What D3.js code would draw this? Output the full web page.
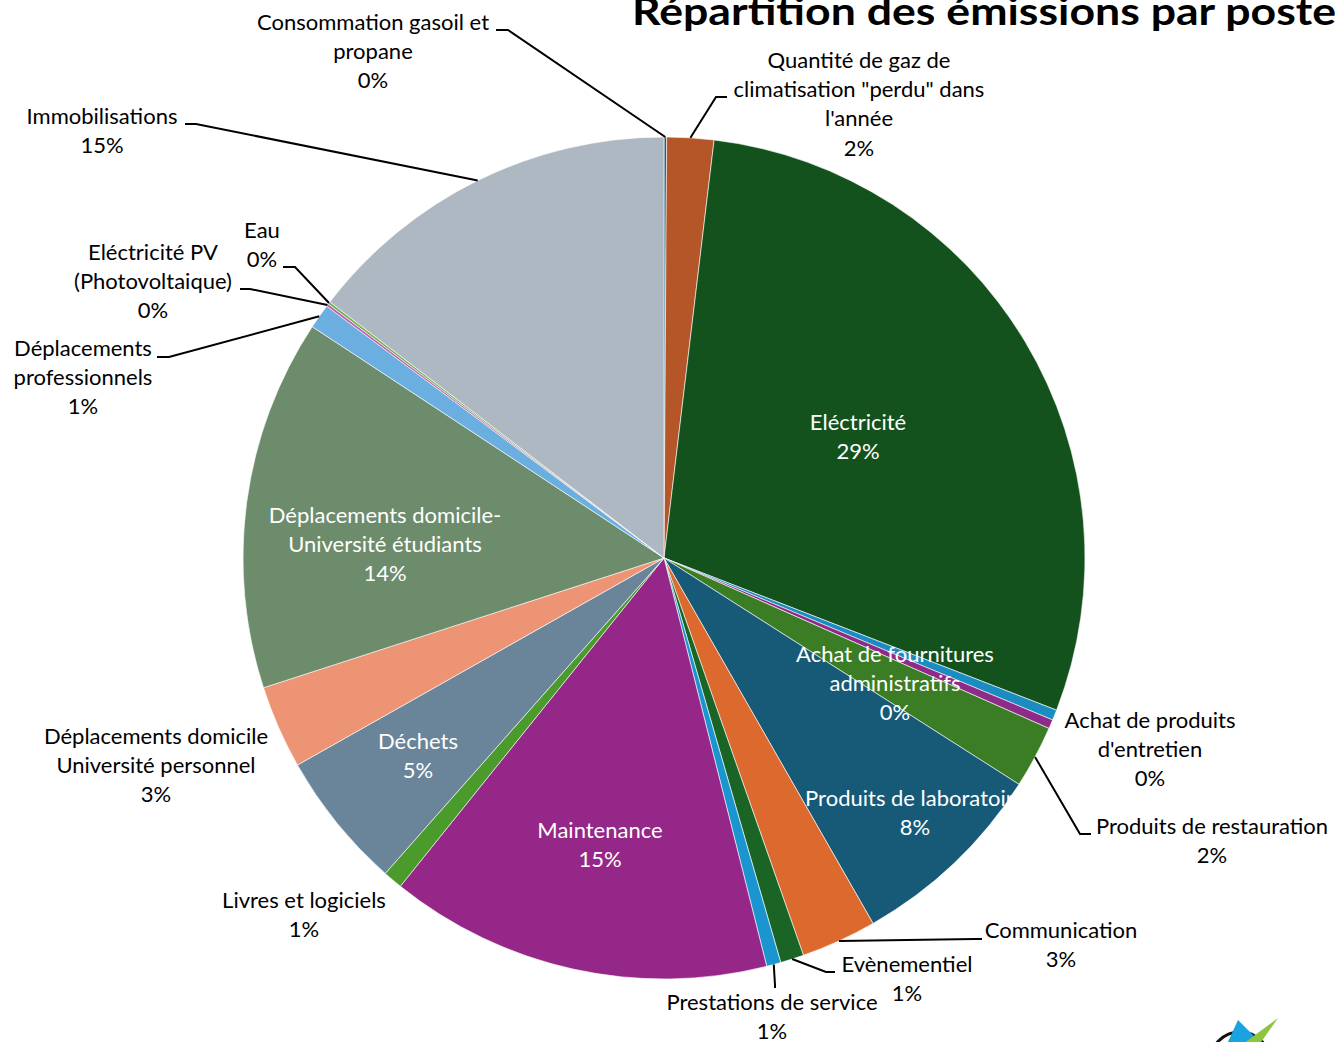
<!DOCTYPE html>
<html>
<head>
<meta charset="utf-8">
<script src="https://cdn.jsdelivr.net/npm/d3@7/dist/d3.min.js"></script>
<style>
  html, body { margin: 0; padding: 0; background: #fff; }
  svg { display: block; }
  text { font-family: Lato, "Open Sans", sans-serif; }
</style>
</head>
<body>
<svg id="chart" width="1335" height="1042"></svg>
<script>
// ---------------- DATA ----------------
const title = "Répartition des émissions par poste";

const categories = [
  "Consommation gasoil et propane",
  "Quantité de gaz de climatisation \"perdu\" dans l'année",
  "Eléctricité",
  "Achat de fournitures administratifs",
  "Achat de produits d'entretien",
  "Produits de restauration",
  "Produits de laboratoire",
  "Communication",
  "Evènementiel",
  "Prestations de service",
  "Maintenance",
  "Livres et logiciels",
  "Déchets",
  "Déplacements domicile Université personnel",
  "Déplacements domicile-Université étudiants",
  "Déplacements professionnels",
  "Eléctricité PV (Photovoltaique)",
  "Eau",
  "Immobilisations"
];

// share of emissions (%)
const values = [0.1, 1.8, 29.0, 0.4, 0.35, 2.4, 7.7, 2.9, 0.9, 0.55, 14.7, 0.75, 5.3, 3.2, 14.25, 0.95, 0.1, 0.1, 14.6];

// ---------------- PRESENTATION ----------------
const colors = [
  "#1F5F80", "#B45627", "#13521D", "#1A8CC2", "#8E2A88", "#3B7D25",
  "#165A78", "#DC6A2E", "#1A6426", "#1A95CF", "#952788", "#4A9B2C",
  "#6A8599", "#EC9473", "#6C8C6C", "#6AAFE0", "#C060B0", "#72B24E", "#AEB8C3"
];

// label line wrapping as drawn in the chart
const labelWrap = [
  ["Consommation gasoil et", "propane"],
  ["Quantité de gaz de", "climatisation \"perdu\" dans", "l'année"],
  ["Eléctricité"],
  ["Achat de fournitures", "administratifs"],
  ["Achat de produits", "d'entretien"],
  ["Produits de restauration"],
  ["Produits de laboratoire"],
  ["Communication"],
  ["Evènementiel"],
  ["Prestations de service"],
  ["Maintenance"],
  ["Livres et logiciels"],
  ["Déchets"],
  ["Déplacements domicile", "Université personnel"],
  ["Déplacements domicile-", "Université étudiants"],
  ["Déplacements", "professionnels"],
  ["Eléctricité PV", "(Photovoltaique)"],
  ["Eau"],
  ["Immobilisations"]
];

// label layout: center x, first-line center y, inside (white) or outside, leader stub
const labelLayout = [
  { x: 373, y: 22, inside: false, stub: [[496, 30], [508, 30]] },
  { x: 859, y: 60, inside: false, stub: [[727, 97], [716, 97]] },
  { x: 858, y: 422, inside: true },
  { x: 895, y: 654, inside: true },
  { x: 1150, y: 720, inside: false },
  { x: 1212, y: 826, inside: false, stub: [[1091, 834], [1080, 834]] },
  { x: 915, y: 798, inside: true },
  { x: 1061, y: 930, inside: false, stub: [[982, 939], [975, 939]] },
  { x: 907, y: 964, inside: false, stub: [[835, 972], [826, 972]] },
  { x: 772, y: 1002, inside: false, stub: [[775, 988], [775, 985]] },
  { x: 600, y: 830, inside: true },
  { x: 304, y: 900, inside: false },
  { x: 418, y: 741, inside: true },
  { x: 156, y: 736, inside: false },
  { x: 385, y: 515, inside: true },
  { x: 83, y: 348, inside: false, stub: [[157, 357], [169, 357]] },
  { x: 153, y: 252, inside: false, stub: [[240, 289], [250, 289]] },
  { x: 262, y: 230, inside: false, stub: [[283, 267], [295, 267]] },
  { x: 102, y: 116, inside: false, stub: [[185, 124], [196, 124]] }
];

const W = 1335, H = 1042;
const cx = 664, cy = 558, R = 421;
const fontSize = 22, lineH = 29.4;

// ---------------- DRAW ----------------
const svg = d3.select("#chart");
svg.append("rect").attr("width", W).attr("height", H).attr("fill", "#fff");

const data = categories.map((c, i) => ({ cat: c, value: values[i], i }));
const total = d3.sum(values);
const pct = d3.format(".0%");

const pie = d3.pie().sort(null).value(d => d.value).startAngle(0).endAngle(2 * Math.PI);
const arcs = pie(data);
const arc = d3.arc().innerRadius(0).outerRadius(R);

const g = svg.append("g").attr("transform", `translate(${cx},${cy})`);
g.selectAll("path.slice")
  .data(arcs)
  .join("path")
  .attr("class", "slice")
  .attr("d", arc)
  .attr("fill", d => colors[d.data.i])
  .attr("stroke", "#fff")
  .attr("stroke-width", 0.6)
  .attr("stroke-linejoin", "round");

// leader lines
const edgePoint = d => {
  const a = (d.startAngle + d.endAngle) / 2;
  return [cx + R * Math.sin(a), cy - R * Math.cos(a)];
};
const line = d3.line();
svg.append("g").selectAll("path.leader")
  .data(arcs.filter(d => labelLayout[d.data.i].stub))
  .join("path")
  .attr("class", "leader")
  .attr("d", d => {
    const s = labelLayout[d.data.i].stub;
    return line([s[0], s[1], edgePoint(d)]);
  })
  .attr("fill", "none")
  .attr("stroke", "#000")
  .attr("stroke-width", 2);

// labels
const lg = svg.append("g");
arcs.forEach(d => {
  const i = d.data.i;
  const L = labelLayout[i];
  const lines = labelWrap[i].concat([pct(d.data.value / total)]);
  const t = lg.append("text")
    .attr("text-anchor", "middle")
    .attr("font-size", fontSize)
    .attr("fill", L.inside ? "#fff" : "#000");
  lines.forEach((s, k) => {
    t.append("tspan")
      .attr("x", L.x)
      .attr("y", L.y + k * lineH + 7.5)
      .text(s);
  });
});

// title
svg.append("text")
  .attr("x", 632)
  .attr("y", 25)
  .attr("font-size", 39)
  .attr("font-weight", "bold")
  .attr("fill", "#000")
  .attr("textLength", 704)
  .attr("lengthAdjust", "spacingAndGlyphs")
  .text(title);

// logo fragment (bottom-right corner)
const logo = svg.append("g").attr("transform", "translate(1240,1062)");
logo.append("circle").attr("r", 30).attr("fill", "none").attr("stroke", "#111").attr("stroke-width", 3);
logo.append("path").attr("d", "M-24,6 L-2,-42 L14,-26 L-8,10 Z").attr("fill", "#1AA3E0");
logo.append("path").attr("d", "M-8,-10 L38,-44 L10,-4 Z").attr("fill", "#8CC63F");
</script>
</body>
</html>
